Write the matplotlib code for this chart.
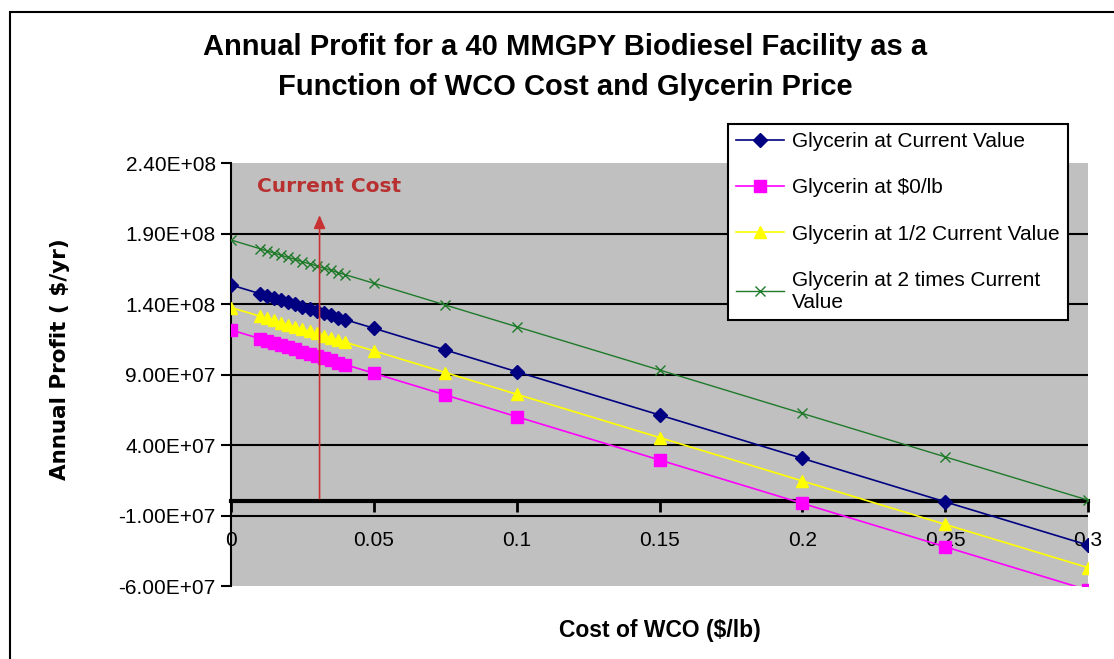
import matplotlib
matplotlib.use("Agg")
import matplotlib.pyplot as plt
from matplotlib.patches import Rectangle

plt.rcParams['font.family'] = ['Liberation Sans', 'DejaVu Sans']

# WCO cost ($/lb)
wco_cost = [0, 0.01, 0.0125, 0.015, 0.0175, 0.02, 0.0225, 0.025, 0.0275, 0.03,
            0.0325, 0.035, 0.0375, 0.04, 0.05, 0.075, 0.1, 0.15, 0.2, 0.25, 0.3]

# annual profit, millions of $/yr
profit_current = [153.5, 147.4, 145.8, 144.3, 142.7, 141.2, 139.7, 138.1, 136.6, 135.1,
                  133.5, 132.0, 130.4, 128.9, 122.8, 107.4, 92.0, 61.3, 30.5, -0.3, -31.0]
profit_zero = [121.6, 115.5, 113.9, 112.4, 110.8, 109.3, 107.8, 106.2, 104.7, 103.2,
               101.6, 100.1, 98.5, 97.0, 90.9, 75.5, 60.1, 29.4, -1.4, -32.2, -62.9]
profit_half = [137.5, 131.4, 129.8, 128.3, 126.7, 125.2, 123.7, 122.1, 120.6, 119.1,
               117.5, 116.0, 114.4, 112.9, 106.8, 91.4, 76.0, 45.3, 14.5, -16.3, -47.0]
profit_double = [185.4, 179.3, 177.7, 176.2, 174.6, 173.1, 171.6, 170.0, 168.5, 167.0,
                 165.4, 163.9, 162.3, 160.8, 154.7, 139.3, 123.9, 93.2, 62.4, 31.6, 0.9]

series_labels = ["Glycerin at Current Value", "Glycerin at $0/lb",
                 "Glycerin at 1/2 Current Value", "Glycerin at 2 times Current\nValue"]

y_ticks = [-6.0e7, -1.0e7, 4.0e7, 9.0e7, 1.4e8, 1.9e8, 2.4e8]
y_tick_labels = ["-6.00E+07", "-1.00E+07", "4.00E+07", "9.00E+07",
                 "1.40E+08", "1.90E+08", "2.40E+08"]
x_ticks = [0, 0.05, 0.1, 0.15, 0.2, 0.25, 0.3]
x_tick_labels = ["0", "0.05", "0.1", "0.15", "0.2", "0.25", "0.3"]

current_cost = 0.031

W, H = 1114, 659
fig = plt.figure(figsize=(W / 100, H / 100), dpi=100)
fig.patch.set_facecolor("white")

# outer chart frame
fig.add_artist(Rectangle((10 / W, -0.1), 1.2, 1 - 12 / H + 0.1, transform=fig.transFigure,
                         fill=False, edgecolor="black", linewidth=1.5))

ax = fig.add_axes([231 / W, 1 - 586 / H, (1088 - 231) / W, (586 - 163) / H])
ax.set_facecolor("#c0c0c0")
ax.set_xlim(0, 0.3)
ax.set_ylim(-6.0e7, 2.4e8)
ax.set_axisbelow(True)

# gridlines
ax.hlines(y_ticks[1:-1], 0, 0.3, colors="black", linewidth=1.5, zorder=1)

def scale(vals):
    return [v * 1e6 for v in vals]

ax.plot(wco_cost, scale(profit_current), color="#000080", marker="D", markersize=7,
        linewidth=1.2, label=series_labels[0], zorder=3)
ax.plot(wco_cost, scale(profit_zero), color="#ff00ff", marker="s", markersize=8,
        linewidth=1.2, label=series_labels[1], zorder=3)
ax.plot(wco_cost, scale(profit_half), color="#ffff00", marker="^", markersize=8,
        linewidth=1.2, label=series_labels[2], zorder=3)
ax.plot(wco_cost, scale(profit_double), color="#1f7a2a", marker="x", markersize=7,
        markeredgewidth=1.0, linewidth=1.0, label=series_labels[3], zorder=3)

# spines
for s in ["top", "right"]:
    ax.spines[s].set_visible(False)
ax.spines["left"].set_linewidth(1.5)
ax.spines["left"].set_zorder(1)
ax.spines["bottom"].set_position(("data", 0))
ax.spines["bottom"].set_linewidth(3)
ax.spines["bottom"].set_zorder(1)

ax.set_yticks(y_ticks)
ax.set_yticklabels(y_tick_labels)
ax.set_xticks(x_ticks)
ax.set_xticklabels(x_tick_labels)
ax.tick_params(axis="y", direction="out", length=7, width=1.5, labelsize=15, pad=4)
ax.tick_params(axis="x", direction="out", length=8, width=2, labelsize=15, pad=13)

# current cost marker
ax.annotate("", xy=(current_cost, 2.05e8), xytext=(current_cost, 0),
            arrowprops=dict(arrowstyle="-|>,head_length=0.8,head_width=0.35",
                            color="#c83232", linewidth=1.2), zorder=4)
ax.text(0.009, 2.23e8, "Current Cost", color="#b83030", fontsize=14.5,
        fontweight="bold", family="DejaVu Sans", ha="left", va="center")

fig.text(565 / W, 1 - 67 / H, "Annual Profit for a 40 MMGPY Biodiesel Facility as a\n"
         "Function of WCO Cost and Glycerin Price", ha="center", va="center",
         fontsize=21, fontweight="bold", linespacing=1.55)
fig.text(60 / W, 1 - 359 / H, "Annual Profit ( $/yr)", rotation=90, ha="center",
         va="center", fontsize=15.5, fontweight="bold", family="DejaVu Sans")
fig.text(660 / W, 1 - 630 / H, "Cost of WCO ($/lb)", ha="center", va="center",
         fontsize=16.5, fontweight="bold")

leg = ax.legend(loc="upper left", bbox_to_anchor=(728 / W, 1 - 124 / H),
                bbox_transform=fig.transFigure, fontsize=15, frameon=True,
                fancybox=False, framealpha=1, edgecolor="black",
                handlelength=2.3, handletextpad=0.35, labelspacing=1.3,
                borderpad=0.4, borderaxespad=0)
leg.get_frame().set_linewidth(1.5)
leg.set_zorder(5)

fig.savefig("out.png", dpi=100, facecolor="white")
